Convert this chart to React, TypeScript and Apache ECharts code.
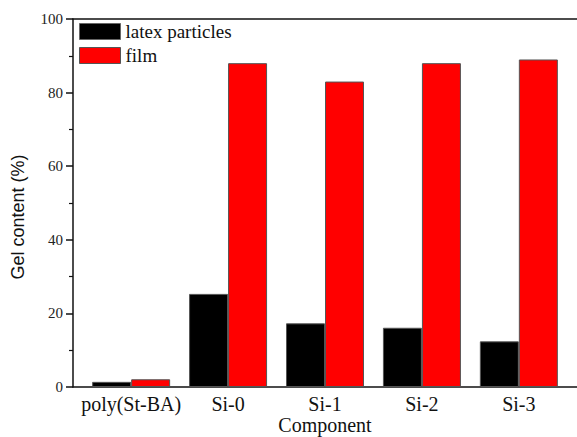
import React, { useEffect, useRef } from "react";
import * as echarts from "echarts";

const categories = ["poly(St-BA)", "Si-0", "Si-1", "Si-2", "Si-3"];
const latexParticles = [1.4, 25.3, 17.3, 16.1, 12.4];
const film = [2.1, 88.0, 83.0, 88.0, 89.0];
const yTicks = { min: 0, max: 100, interval: 20 };

export default function App() {
  const ref = useRef<HTMLDivElement>(null);
  useEffect(() => {
    if (!ref.current) return;
    const chart = echarts.init(ref.current, undefined, { renderer: "svg" });
    const serif = "Liberation Serif";
    const toPairs = (arr: number[]) => arr.map((v, i) => [i, v]);
    chart.setOption({
      animation: false,
      backgroundColor: "#ffffff",
      grid: { left: 73, right: 0, top: 19, bottom: 50, containLabel: false, outerBoundsMode: "none" },
      legend: {
        orient: "vertical",
        left: 74,
        top: 17,
        itemWidth: 41,
        itemHeight: 16,
        itemGap: 5,
        icon: "rect",
        textStyle: { fontFamily: serif, fontSize: 19, color: "#111" },
        data: [
          { name: "latex particles", itemStyle: { color: "#000", borderColor: "#666", borderWidth: 1 } },
          { name: "film", itemStyle: { color: "#ff0000", borderColor: "#555", borderWidth: 1 } },
        ],
      },
      xAxis: [
        {
          type: "value",
          min: -0.6,
          max: 4.6,
          interval: 0.2,
          name: "Component",
          nameLocation: "middle",
          nameGap: 27,
          nameMoveOverlap: false,
          nameTextStyle: { fontFamily: serif, fontSize: 20, color: "#111", lineHeight: 22 },
          axisLine: { show: true, onZero: false, lineStyle: { color: "#111", width: 1.5 } },
          axisTick: { show: false },
          splitLine: { show: false },
          axisLabel: {
            margin: 7,
            fontFamily: serif,
            fontSize: 20,
            color: "#111",
            formatter: (v: number) => {
              const r = Math.round(v);
              if (Math.abs(v - r) < 1e-6 && r >= 0 && r < categories.length) return categories[r];
              return "";
            },
          },
        },
        {
          type: "value",
          position: "top",
          min: -0.6,
          max: 4.6,
          axisLine: { show: true, onZero: false, lineStyle: { color: "#111", width: 1.5 } },
          axisTick: { show: false },
          axisLabel: { show: false },
          splitLine: { show: false },
        },
      ],
      yAxis: [
        {
          type: "value",
          min: yTicks.min,
          max: yTicks.max,
          interval: yTicks.interval,
          name: "Gel content (%)",
          nameLocation: "middle",
          nameGap: 46,
          nameMoveOverlap: false,
          nameTextStyle: { fontFamily: "Liberation Sans", fontSize: 18, color: "#111", padding: [0, 28, 0, 0] },
          axisLine: { show: true, onZero: false, lineStyle: { color: "#111", width: 1.5 } },
          axisTick: { show: true, inside: false, length: 7, lineStyle: { color: "#111", width: 1.5 } },
          minorTick: { show: true, splitNumber: 2, length: 4, lineStyle: { color: "#111", width: 1.2 } },
          splitLine: { show: false },
          minorSplitLine: { show: false },
          axisLabel: { margin: 10, fontFamily: serif, fontSize: 15, color: "#222" },
        },
        {
          type: "value",
          position: "right",
          min: yTicks.min,
          max: yTicks.max,
          axisLine: { show: true, onZero: false, lineStyle: { color: "#d0d0d0", width: 1 } },
          axisTick: { show: false },
          axisLabel: { show: false },
          splitLine: { show: false },
        },
      ],
      series: [
        {
          name: "latex particles",
          type: "bar",
          xAxisIndex: 0,
          yAxisIndex: 0,
          barWidth: 39,
          barGap: "0%",
          itemStyle: { color: "#000", borderColor: "#555", borderWidth: 1 },
          data: toPairs(latexParticles),
        },
        {
          name: "film",
          type: "bar",
          xAxisIndex: 0,
          yAxisIndex: 0,
          barWidth: 39,
          barGap: "0%",
          itemStyle: { color: "#ff0000", borderColor: "#555", borderWidth: 1 },
          data: toPairs(film),
        },
      ],
    });
    return () => chart.dispose();
  }, []);
  return (
    <div
      ref={ref}
      style={{ position: "fixed", left: 0, top: 0, width: 577, height: 437 }}
    />
  );
}
